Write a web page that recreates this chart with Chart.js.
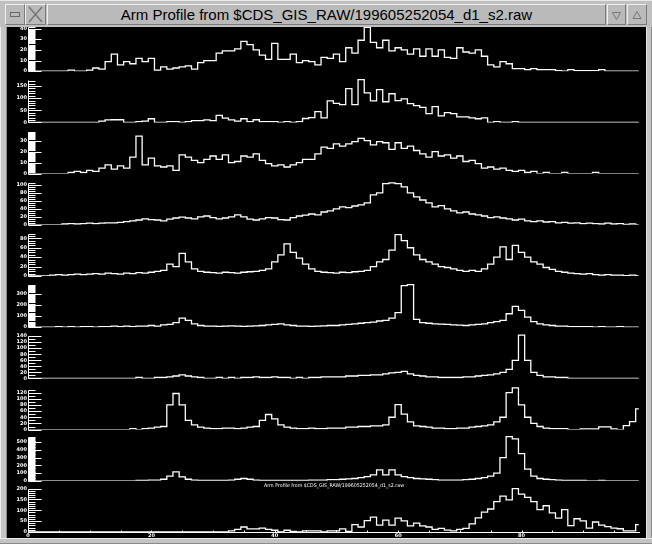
<!DOCTYPE html>
<html><head><meta charset="utf-8">
<script src="https://cdn.jsdelivr.net/npm/chart.js@4/dist/chart.umd.min.js"></script>
<style>
html,body{margin:0;padding:0;background:#c0c0c0;overflow:hidden;}
#win{position:absolute;left:0;top:0;width:652px;height:544px;background:#c0c0c0;overflow:hidden;}
#black{position:absolute;left:7px;top:27px;width:639px;height:511px;background:#000;}
#cvwrap{position:absolute;left:7px;top:14px;width:639px;height:524px;}
#bar{position:absolute;left:0;top:0;width:652px;height:27px;background:#c0c0c0;border-top:1px solid #e8e8e8;box-sizing:border-box;}
.b{position:absolute;top:3px;height:21px;box-sizing:border-box;border-top:1px solid #f0f0f0;border-left:1px solid #f0f0f0;border-right:1px solid #7a7a7a;border-bottom:1px solid #7a7a7a;background:#bababa;}
#title{left:47px;width:559px;font:15px "Liberation Sans",Arial,sans-serif;color:#000;text-align:center;line-height:19px;}
#lframe{position:absolute;left:0;top:27px;width:7px;height:517px;background:#c4c4c4;border-left:1px solid #ececec;box-sizing:border-box;}
#lframe:after{content:"";position:absolute;right:0;top:0;width:1px;height:511px;background:#8a8a8a;}
#rframe{position:absolute;left:646px;top:27px;width:6px;height:517px;background:#c4c4c4;border-left:1px solid #e8e8e8;border-right:1px solid #8a8a8a;box-sizing:border-box;}
#bframe{position:absolute;left:0;top:538px;width:652px;height:6px;background:#c4c4c4;border-top:1px solid #ececec;border-bottom:1px solid #8a8a8a;box-sizing:border-box;}
</style></head>
<body>
<div id="win">
  <div id="black"></div>
  <div id="cvwrap"><canvas id="c" width="639" height="524"></canvas></div>
  <div id="bar">
    <div class="b" style="left:5px;width:20px;"><svg width="18" height="19"><rect x="4.5" y="7.5" width="9" height="4" fill="none" stroke="#6a6a6a"/></svg></div>
    <div class="b" style="left:25px;width:21px;"><svg width="19" height="19"><path d="M3 2 L16 17 M16 2 L3 17" stroke="#777" stroke-width="1.6"/></svg></div>
    <div class="b" id="title">Arm Profile from $CDS_GIS_RAW/199605252054_d1_s2.raw</div>
    <div class="b" style="left:607px;width:19px;"><svg width="17" height="19"><path d="M4.5 7.5 L12.5 7.5 L8.5 14.5 Z" fill="none" stroke="#777"/></svg></div>
    <div class="b" style="left:627px;width:20px;"><svg width="18" height="19"><path d="M5 13.5 L13 13.5 L9 6.5 Z" fill="none" stroke="#777"/></svg></div>
  </div>
  <div id="lframe"></div>
  <div id="rframe"></div>
  <div id="bframe"></div>
</div>
<script>
// ---------------- data ----------------
const bins = [0,1,2,3,4,5,6,7,8,9,10,11,12,13,14,15,16,17,18,19,20,21,22,23,24,25,26,27,28,29,30,31,32,33,34,35,36,37,38,39,40,41,42,43,44,45,46,47,48,49,50,51,52,53,54,55,56,57,58,59,60,61,62,63,64,65,66,67,68,69,70,71,72,73,74,75,76,77,78,79,80,81,82,83,84,85,86,87,88,89,90,91,92,93,94,95,96,97,98,99];
const xTickLabels = [0,20,40,60,80];

const arm1 = [0,0,0,0,0,0,0,1,0,0, 1,3,2,9,16,6,9,7,12,9, 12,1,4,2,3,4,5,2,8,10, 10,17,19,19,21,28,25,20,15,11, 26,11,11,16,8,10,9,6,13,12, 16,9,22,17,29,41,27,22,29,19, 22,20,16,21,14,21,14,20,13,12, 22,18,17,20,14,6,4,9,7,2.5, 2.5,1.5,2.5,1.5,1.5,1.5,0.5,0,1.5,0.5, 0.5,0.5,0.5,1.5,0,0,0,0,0,0];
const arm2 = [0,0,0,0,0,0,0,0,0,0, 0,0,5,10,11,11,0,0,3,5, 15,0,0,3,3,0,3,7,7,10, 7,29,18,10,5,15,3,11,3,3, 3,0,3,0,3,16,20,44,19,89, 78,73,139,73,176,122,89,135,85,118, 90,97,77,69,62,36,65,27,40,36, 23,23,19,15,19,0,3,0,0,3, 0,0,0,0,0,0,0,0,0,0, 0,0,0,0,0,0,0,0,0,0];
const arm3 = [0,0,0,0,0,0,0,1,2,1, 3,2,5,8,4,7,5,15,34,8, 14,7,6,7,3,17,15,12,10,13, 16,13,17,10,11,16,15,18,12,9, 7,8,6,8,10,13,13,18,24,23, 27,25,27,29,32,30,26,29,28,22, 28,23,25,21,18,15,20,16,17,14, 16,11,12,9,5,6,4,5,3,2, 3,1,2,0,1,0,0,1,0,0, 0,0,1,0,0,0,0,0,0,0];
const arm4 = [0,0,0,0,0,0,2,3,2,3, 4,3,4,5,5,6,8,10,12,15, 13,12,10,14,17,19,17,15,20,22, 18,15,17,20,25,20,14,12,15,18, 17,13,12,18,22,24,27,25,32,35, 40,45,43,47,50,55,75,80,103,105, 103,95,80,70,62,55,45,48,40,35, 30,32,27,25,22,18,20,17,15,12, 14,10,8,10,7,8,5,6,4,5, 3,4,3,2,4,2,3,1,2,0];
const arm5 = [0,0,0,0,2,3,2,3,4,3, 4,5,4,6,5,4,6,5,7,6, 8,10,12,25,20,48,30,15,10,8, 7,6,8,7,6,8,9,10,12,15, 30,45,68,50,38,25,15,10,8,7, 6,8,7,9,10,12,20,30,35,55, 88,75,60,45,35,30,25,20,18,15, 12,10,12,10,15,25,40,62,35,65, 50,40,30,25,18,14,10,8,6,5, 4,5,3,2,3,2,2,1,2,0];
const arm6 = [0,0,0,0,0,5,0,5,0,5, 5,0,5,5,10,5,10,5,10,10, 15,10,20,25,40,80,60,30,15,10, 10,8,10,12,10,8,10,12,15,20, 25,30,20,15,10,10,8,10,12,15, 15,20,25,30,35,40,45,55,60,80, 130,370,380,70,40,35,30,28,25,20, 18,15,20,25,30,40,50,60,120,185, 150,90,50,30,20,15,10,10,5,5, 5,5,0,5,0,0,5,0,0,0];
const arm7 = [0,0,0,0,0,0,0,0,0,0, 0,0,0,0,0,0,0,0,3,0, 0,3,3,5,8,12,8,5,3,0, 0,3,0,3,0,3,3,5,3,3, 5,3,3,0,3,0,3,3,5,5, 5,5,8,8,10,10,12,12,15,18, 20,23,15,10,8,5,5,3,3,3, 3,5,5,8,10,12,15,20,30,60, 143,60,20,10,5,5,3,3,0,0, 0,0,0,0,0,0,0,0,0,0];
const arm8 = [0,0,0,0,0,0,0,0,0,0, 0,0,0,0,0,0,0,3,0,3, 5,8,10,80,117,80,30,15,8,5, 3,3,5,5,3,5,8,10,30,49, 35,15,8,5,3,3,5,3,3,5, 5,5,8,8,10,10,12,12,15,40, 81,50,25,12,10,8,5,5,3,3, 5,5,8,10,12,15,25,40,120,135, 80,40,20,10,5,3,3,3,0,0, 2,2,2,9,9,2,0,13,26,67];
const arm9 = [0,0,0,0,0,0,0,0,0,0, 0,0,0,0,0,0,0,0,5,5, 10,10,20,60,116,50,20,10,5,5, 5,5,5,10,20,30,20,10,5,5, 5,5,5,5,5,5,10,10,10,15, 15,20,25,30,40,55,77,140,77,140, 77,55,40,30,25,20,15,10,10,10, 10,15,20,30,40,60,100,300,570,540, 350,150,60,30,20,15,10,5,5,5, 5,0,0,5,0,0,0,0,0,0];
const arm10 = [0,0,0,0,0,0,0,0,0,0, 0,0,0,0,0,0,0,0,0,0, 0,0,0,0,0,0,0,0,0,0, 0,0,0,5,12,23,14,14,18,12, 8,0,8,3,0,5,5,5,0,5, 5,14,3,34,23,52,69,32,55,32, 64,51,28,41,28,23,12,17,9,5, 12,17,37,65,92,106,140,165,148,200, 175,160,140,103,121,88,64,103,29,61, 51,18,46,32,25,18,15,5,5,34];

// per-panel axis values (range, labelled ticks, minor tick step, top of tick column)
const panelMax   = [48, 211, 46.5, 128, 108.7, 456, 169.5, 166, 661, 236];
const panelMajor = [[0,10,20,30,40],[0,50,100,150],[0,10,20,30],[0,20,40,60,80,100],[0,20,40,60,80],[0,100,200,300],[0,20,40,60,80,100,120,140],[0,20,40,60,80,100,120],[0,100,200,300,400,500],[0,50,100,150,200]];
const panelMinor = [1, 10, 1, 5, 5, 10, 10, 10, 10, 10];
const panelTop   = [41, 175, 38, 105, 90, 380, 140, 130, 560, 200];
const series = [arm1,arm2,arm3,arm4,arm5,arm6,arm7,arm8,arm9,arm10];
const subTitle = 'Arm Profile from $CDS_GIS_RAW/199605252054_d1_s2.raw';

// ---------------- chart ----------------
const scales = {
  x: {
    type: 'linear', min: 0, max: 99.2,
    grid: {display: false, drawTicks: false},
    border: {display: false},
    ticks: {color: '#fff', font: {size: 5, family: 'DejaVu Sans', weight: 'bold'}, padding: 1, autoSkip: false, maxRotation: 0},
    afterBuildTicks: s => { s.ticks = xTickLabels.map(v => ({value: v})); },
    afterFit: s => { s.height = 6; }
  }
};
series.forEach((d, k) => {
  scales['y' + k] = {
    type: 'linear', position: 'left', stack: 'arms', stackWeight: 1, weight: 10 - k,
    min: 0, max: panelMax[k],
    grid: {display: false, drawTicks: false},
    border: {display: false},
    ticks: {color: '#fff', font: {size: 5, family: 'DejaVu Sans', weight: 'bold'}, padding: 1, autoSkip: false},
    afterBuildTicks: s => { s.ticks = panelMajor[k].map(v => ({value: v})); },
    afterFit: s => { s.width = 21; }
  };
});

const datasets = series.map((d, k) => ({
  data: d.map((v, i) => ({x: bins[i], y: v})),
  yAxisID: 'y' + k,
  borderColor: '#ffffff',
  borderWidth: 1.3,
  pointRadius: 0,
  stepped: 'middle',
  fill: false
}));

const armAxes = {
  id: 'armAxes',
  afterDraw(chart) {
    const ctx = chart.ctx, area = chart.chartArea;
    ctx.save();
    ctx.strokeStyle = '#fff';
    ctx.lineWidth = 1;
    const x0 = Math.round(area.left) + 0.5;
    series.forEach((d, k) => {
      const s = chart.scales['y' + k];
      const yb = Math.round(s.getPixelForValue(0)) + 0.5;
      const yt = Math.round(s.getPixelForValue(panelTop[k])) + 0.5;
      ctx.beginPath();
      ctx.moveTo(x0, yb); ctx.lineTo(x0, yt);
      const step = panelMinor[k];
      for (let v = 0; v <= panelTop[k] + 1e-9; v += step) {
        const y = Math.round(s.getPixelForValue(v)) + 0.5;
        const major = panelMajor[k].includes(Math.round(v * 1000) / 1000);
        ctx.moveTo(x0, y); ctx.lineTo(x0 + (major ? 13 : 7), y);
      }
      ctx.stroke();
    });
    // x axis line and small tick marks
    const xs = chart.scales.x;
    const yb = Math.round(area.bottom) + 0.5;
    ctx.beginPath();
    ctx.moveTo(area.left, yb); ctx.lineTo(area.right, yb);
    for (let v = 5; v < 99; v += 5) {
      const x = Math.round(xs.getPixelForValue(v)) + 0.5;
      ctx.moveTo(x, yb); ctx.lineTo(x, yb - 2);
    }
    ctx.stroke();
    // small caption inside the last panel
    const s9 = chart.scales.y9;
    ctx.fillStyle = '#fff';
    ctx.font = '5px "DejaVu Sans"';
    ctx.textBaseline = 'middle';
    ctx.textAlign = 'center';
    const w = ctx.measureText(subTitle).width;
    const cx = (area.left + area.right) / 2;
    ctx.translate(cx, s9.top + 5);
    ctx.scale(140 / w, 1);
    ctx.fillText(subTitle, 0, 0);
    ctx.restore();
  }
};

new Chart(document.getElementById('c'), {
  type: 'line',
  data: {datasets},
  options: {
    responsive: false, animation: false, devicePixelRatio: 1,
    layout: {padding: {top: 6, right: 6, left: 0, bottom: 0}},
    plugins: {legend: {display: false}, tooltip: {enabled: false}, title: {display: false}},
    scales
  },
  plugins: [armAxes]
});
</script>
</body></html>
